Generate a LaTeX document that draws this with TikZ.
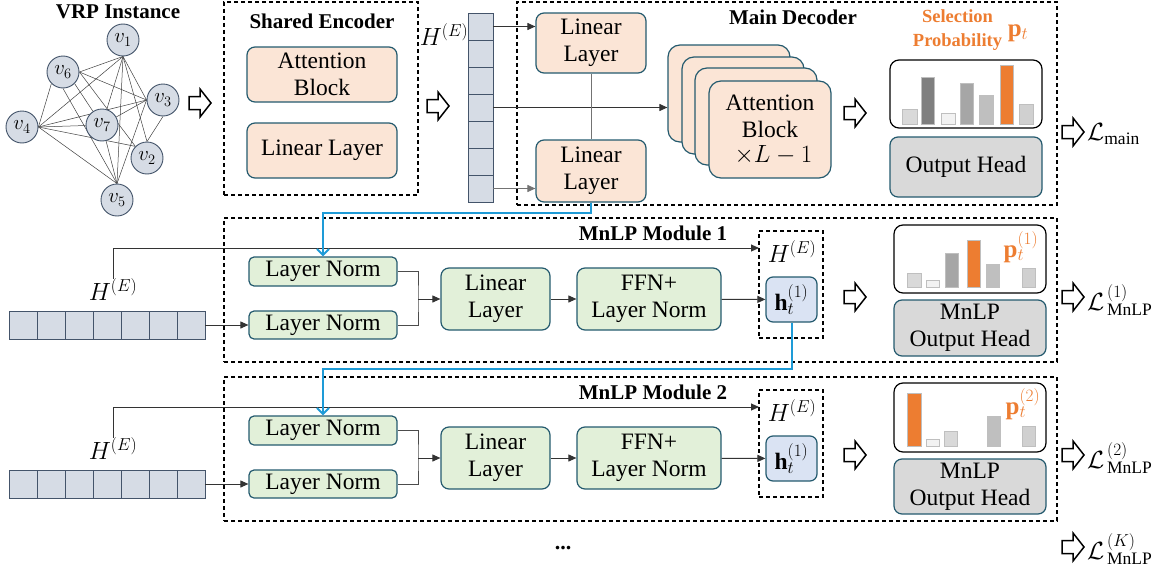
\documentclass[tikz,border=0pt]{standalone}
\usepackage{fontspec}
\setmainfont{Liberation Serif}
\usetikzlibrary{arrows.meta,calc,backgrounds}
\definecolor{peach}{HTML}{FBE5D6}
\definecolor{bord}{HTML}{245A6E}
\definecolor{greenf}{HTML}{E2F0D9}
\definecolor{bluef}{HTML}{DAE3F3}
\definecolor{grayf}{HTML}{D9D9D9}
\definecolor{nodef}{HTML}{D6DCE5}
\definecolor{nodeb}{HTML}{44546A}
\definecolor{orng}{HTML}{ED7D31}
\definecolor{cyanl}{HTML}{1E9BD7}
\definecolor{bD}{HTML}{D9D9D9}
\definecolor{bK}{HTML}{7F7F7F}
\definecolor{bF}{HTML}{F2F2F2}
\definecolor{bA}{HTML}{A6A6A6}
\definecolor{bB}{HTML}{BFBFBF}
\definecolor{bC}{HTML}{D0D0D0}
\newcommand\bodyf{\fontsize{23.5}{27}\selectfont}
\newcommand\titf{\fontsize{21}{24}\selectfont\bfseries}
\newcommand\lossmn[1]{$\mathcal{L}\mkern2mu^{\raisebox{1pt}{$\scriptstyle(#1)$}}_{\mathrm{MnLP}}$}
\begin{document}
\begin{tikzpicture}[x=1pt,y=-1pt,
  box/.style={draw=bord, line width=1.2pt, rounded corners=8pt, align=center, inner sep=0pt, font=\bodyf, text=black},
  pbox/.style={box, fill=peach},
  gbox/.style={box, fill=greenf},
  lnbox/.style={box, fill=greenf, rounded corners=5pt},
  headbox/.style={box, fill=grayf},
  hbox/.style={box, fill=bluef, rounded corners=7pt},
  barbox/.style={draw=black, line width=1.2pt, rounded corners=9pt, fill=white, inner sep=0pt},
  dbox/.style={draw=black, dash pattern=on 4pt off 3pt, line width=1.1pt, inner sep=0pt},
  cell/.style={draw=nodeb, fill=nodef, line width=0.8pt, inner sep=0pt},
  vnode/.style={circle, draw=nodeb, fill=nodef, line width=0.9pt, minimum size=32pt, inner sep=0pt, font=\fontsize{21}{22}\selectfont},
  gedge/.style={draw=black!75, line width=0.5pt},
  plain/.style={draw=black!70, line width=1pt},
  arr/.style={draw=black!80, line width=1pt, -{Triangle[length=8pt,width=7pt]}},
  cyanline/.style={draw=cyanl, line width=2pt, -{Straight Barb[length=6pt,width=12pt]}},
  title/.style={font=\titf, inner sep=0pt},
  lbl/.style={font=\fontsize{23}{25}\selectfont, inner sep=0pt},
  lossl/.style={font=\fontsize{25}{27}\selectfont, inner sep=0pt, anchor=west},
  fatarr/.pic={\draw[line width=1.5pt, fill=white, line join=miter] (-11,-6.5) -- (0,-6.5) -- (0,-14) -- (11,0) -- (0,14) -- (0,6.5) -- (-11,6.5) -- cycle;}
]
\useasboundingbox (0,0) rectangle (1162,570);

% ---------------- VRP instance ----------------
\node[title] (vrp) at (118,12) {VRP Instance};
\node[vnode] (v1) at (123,40) {$v_1$};
\node[vnode] (v6) at (63,72) {$v_6$};
\node[vnode] (v3) at (163,100) {$v_3$};
\node[vnode] (v4) at (22,127) {$v_4$};
\node[vnode] (v7) at (102,125) {$v_7$};
\node[vnode] (v2) at (147,158) {$v_2$};
\node[vnode] (v5) at (117,200) {$v_5$};
\begin{scope}[on background layer]
\foreach \a/\b in {v1.south/v6.east, v1.south/v4.east, v1.south/v7, v1.south/v3.west, v1.south/v2.north, v1.south/v5.north,
                   v6.east/v3.west, v6.east/v2.north west, v6.south/v5.north, v6.south west/v4.east, v6.south east/v7,
                   v4.east/v3.west, v4.east/v7, v4.east/v2.north west, v4.east/v5.north,
                   v7/v3.west, v7/v5.north, v3.south/v2.north, v3.west/v5.north}
  \draw[gedge] (\a) -- (\b);
\end{scope}
\pic (fa1) at (200,103) {fatarr};

% ---------------- Shared encoder ----------------
\node[dbox, minimum width=194pt, minimum height=193pt] (encbox) at (321,98.5) {};
\node[title] (enct) at (322,21) {Shared Encoder};
\node[pbox, minimum width=150pt, minimum height=55pt] (encatt) at (322,74.5) {Attention\\Block};
\node[pbox, minimum width=150pt, minimum height=55pt] (enclin) at (322,150.5) {Linear Layer};
\pic (fa2) at (438,106) {fatarr};

% ---------------- H^(E) vertical vector ----------------
\node[lbl] (hem) at (444,35) {$H^{(E)}$};
\foreach \i in {1,...,7}
  \node[cell, minimum width=25pt, minimum height=27pt] (m\i) at (480.5,{13+27*(\i-0.5)}) {};

% ---------------- Main decoder ----------------
\node[dbox, minimum width=540pt, minimum height=203pt] (decbox) at (787,103.5) {};
\node[title] (dect) at (793,17) {Main Decoder};
\node[pbox, minimum width=110pt, minimum height=60pt] (ll1) at (591,43) {Linear\\Layer};
\node[pbox, minimum width=110pt, minimum height=62pt] (ll2) at (591,171) {Linear\\Layer};
\node[pbox, minimum width=122pt, minimum height=97pt, rounded corners=12pt] (att1) at (729,93.5) {};
\node[pbox, minimum width=122pt, minimum height=97pt, rounded corners=12pt] (att2) at (743,105.5) {};
\node[pbox, minimum width=122pt, minimum height=97pt, rounded corners=12pt] (att3) at (756,116.5) {};
\node[pbox, minimum width=122pt, minimum height=97pt, rounded corners=12pt, font=\fontsize{23.5}{27}\selectfont] (att4) at (770,129.5) {Attention\\Block\\[-2pt]$\;\times L-1$};
\draw[arr] (m1.east) -- (m1.east -| ll1.west);
\draw[arr] (m4.east) -- (m4.east -| att1.west);
\draw[arr, draw=black!55] (m7.east) -- (m7.east -| ll2.west);
\draw[plain, draw=black!55] (ll1.south) -- (ll2.north);
\pic (fa3) at (855,113) {fatarr};
\node[title, text=orng, align=center, font=\fontsize{18.5}{24}\selectfont\bfseries] (selp) at (957.5,30) {Selection\\Probability};
\node[lbl, text=orng, font=\fontsize{25}{27}\selectfont] (pt0) at (1018,33) {$\mathbf{p}_t$};
\node[barbox, minimum width=152pt, minimum height=68pt] (bar0) at (966,94) {};
\foreach \xa/\xb/\t/\c in {902/917/109/bD,921/934/77/bK,941/955/113/bF,960/973/83/bA,979/993/95/bB,1000/1013/65/orng,1019/1033/104/bC}
  \draw[fill=\c, draw=black!25, line width=0.6pt] (\xa,\t) rectangle (\xb,124);
\node[headbox, minimum width=152pt, minimum height=60pt] (oh0) at (966,167) {Output Head};
\pic (fa4) at (1073,132) {fatarr};
\node[lossl] (lmain) at (1087,134) {$\mathcal{L}_{\mathrm{main}}$};

% ---------------- MnLP module 1 ----------------
\node[dbox, minimum width=833pt, minimum height=144pt] (mod1) at (640.5,290) {};
\node[title] (mod1t) at (653,233) {MnLP Module 1};
\node[lbl] (he1) at (113,290) {$H^{(E)}$};
\foreach \i in {1,...,7}
  \node[cell, minimum width=28pt, minimum height=28pt] (a\i) at ({9+28*(\i-0.5)},325) {};
\node[lnbox, minimum width=148pt, minimum height=29pt] (ln1t) at (323,271.5) {Layer Norm};
\node[lnbox, minimum width=148pt, minimum height=28pt] (ln1b) at (323,325) {Layer Norm};
\node[gbox, minimum width=109pt, minimum height=62pt] (lin1) at (495.5,299) {Linear\\Layer};
\node[gbox, minimum width=144pt, minimum height=62pt] (ffn1) at (649,299) {FFN+\\Layer Norm};
\node[dbox, minimum width=64pt, minimum height=107pt] (hd1) at (791,284.5) {};
\node[lbl] (hh1) at (792,252) {$H^{(E)}$};
\node[hbox, minimum width=51pt, minimum height=45pt] (h1) at (791.5,299.5) {$\mathbf{h}_t^{(1)}$};
\coordinate (hin1) at (759,248);
\coordinate (j1) at (418,299);
\draw[arr] (he1.north) |- (hin1);
\draw[arr] (a7.east) -- (ln1b.west);
\draw[plain] (ln1t.east) -| (j1) |- (ln1b.east);
\draw[arr] (j1) -- (lin1.west);
\draw[arr] (lin1) -- (ffn1);
\draw[arr] (ffn1) -- (h1);
\draw[cyanline] (ll2.south) -- ++(0,10) -| (ln1t.north);
\pic (fa5) at (855,297) {fatarr};
\node[barbox, minimum width=152pt, minimum height=68pt] (bar1) at (970,259) {};
\foreach \xa/\xb/\t/\c in {907/921/273/bD,926/939/280/bF,945/958/253/bA,967/980/240/orng,986/999/264/bB,1022/1035/268/bC}
  \draw[fill=\c, draw=black!25, line width=0.6pt] (\xa,\t) rectangle (\xb,287);
\node[lbl, text=orng, font=\fontsize{25}{27}\selectfont] (pt1) at (1021,247) {$\mathbf{p}_t^{(1)}$};
\node[headbox, minimum width=152pt, minimum height=56pt] (oh1) at (970,328) {MnLP\\Output Head};
\pic (fa6) at (1073,297) {fatarr};
\node[lossl] (l1) at (1087,300) {\lossmn{1}};

% ---------------- MnLP module 2 ----------------
\node[dbox, minimum width=833pt, minimum height=144pt] (mod2) at (640.5,449) {};
\node[title] (mod2t) at (653,392) {MnLP Module 2};
\node[lbl] (he2) at (113,449) {$H^{(E)}$};
\foreach \i in {1,...,7}
  \node[cell, minimum width=28pt, minimum height=28pt] (b\i) at ({9+28*(\i-0.5)},484) {};
\node[lnbox, minimum width=148pt, minimum height=29pt] (ln2t) at (323,430.5) {Layer Norm};
\node[lnbox, minimum width=148pt, minimum height=28pt] (ln2b) at (323,484) {Layer Norm};
\node[gbox, minimum width=109pt, minimum height=62pt] (lin2) at (495.5,458) {Linear\\Layer};
\node[gbox, minimum width=144pt, minimum height=62pt] (ffn2) at (649,458) {FFN+\\Layer Norm};
\node[dbox, minimum width=64pt, minimum height=107pt] (hd2) at (791,443.5) {};
\node[lbl] (hh2) at (792,411) {$H^{(E)}$};
\node[hbox, minimum width=51pt, minimum height=45pt] (h2) at (791.5,458.5) {$\mathbf{h}_t^{(1)}$};
\coordinate (hin2) at (759,407);
\coordinate (j2) at (418,458);
\draw[arr] (he2.north) |- (hin2);
\draw[arr] (b7.east) -- (ln2b.west);
\draw[plain] (ln2t.east) -| (j2) |- (ln2b.east);
\draw[arr] (j2) -- (lin2.west);
\draw[arr] (lin2) -- (ffn2);
\draw[arr] (ffn2) -- (h2);
\draw[cyanline] (h1.south) -- ++(0,46) -| (ln2t.north);
\pic (fa7) at (855,455) {fatarr};
\node[barbox, minimum width=152pt, minimum height=69pt] (bar2) at (970,417.5) {};
\foreach \xa/\xb/\t/\c in {907/921/393/orng,926/939/439/bF,944/957/431/bD,987/1000/416/bB,1022/1035/426/bC}
  \draw[fill=\c, draw=black!25, line width=0.6pt] (\xa,\t) rectangle (\xb,446);
\node[lbl, text=orng, font=\fontsize{25}{27}\selectfont] (pt2) at (1023,404) {$\mathbf{p}_t^{(2)}$};
\node[headbox, minimum width=152pt, minimum height=55pt] (oh2) at (970,486.5) {MnLP\\Output Head};
\pic (fa8) at (1073,455) {fatarr};
\node[lossl] (l2) at (1087,458) {\lossmn{2}};

% ---------------- K-th ----------------
\node[lbl, font=\fontsize{22}{24}\selectfont\bfseries] (dots) at (563,548) {...};
\pic (fa9) at (1073,547) {fatarr};
\node[lossl] (lk) at (1087,549) {\lossmn{K}};
\end{tikzpicture}
\end{document}
